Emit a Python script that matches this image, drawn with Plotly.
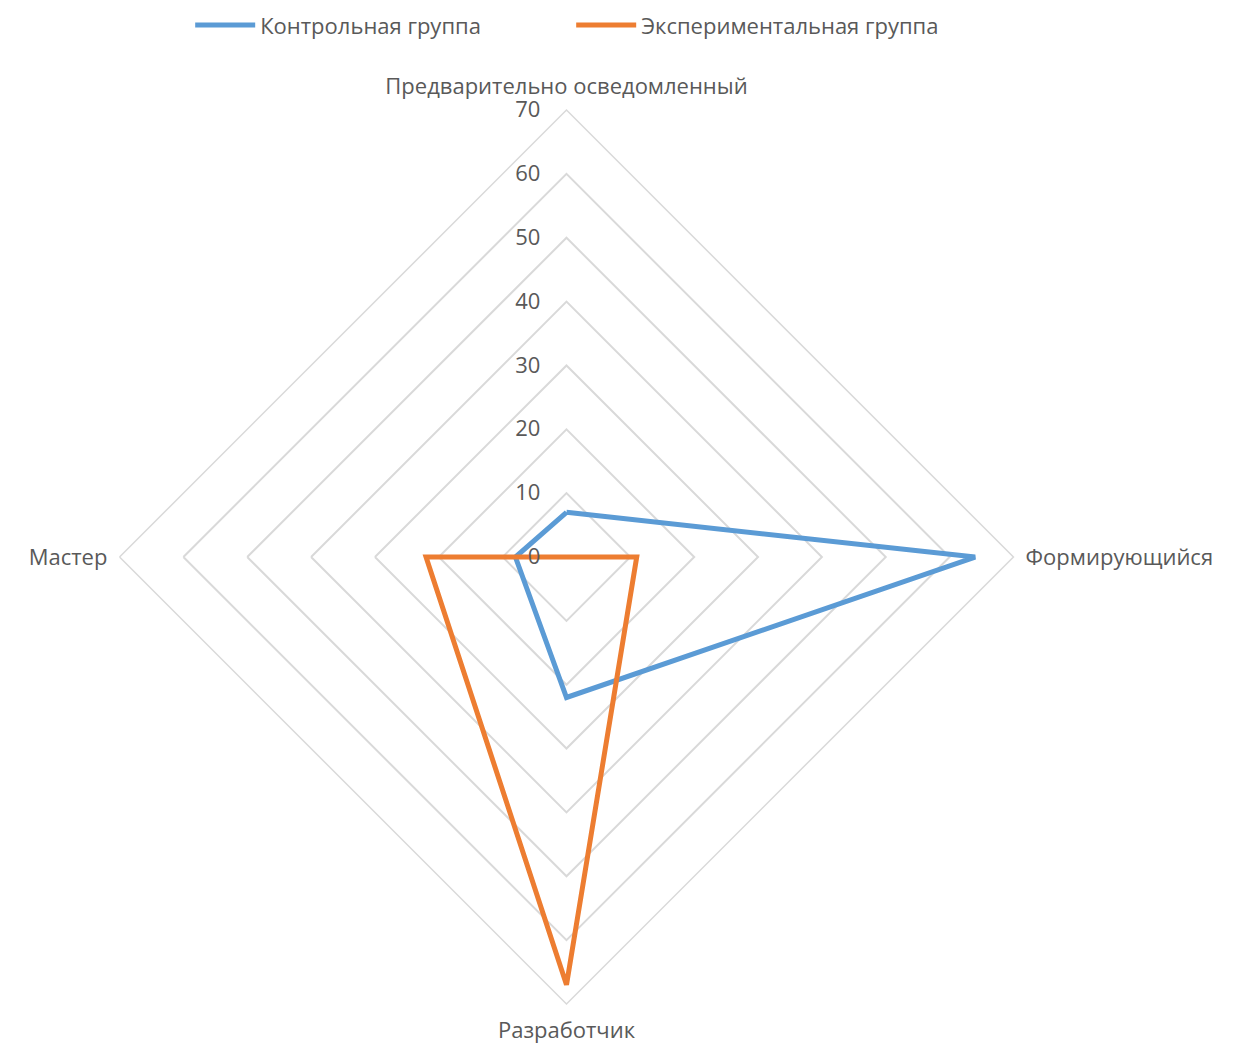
import plotly.graph_objects as go

categories = ["Предварительно осведомленный", "Формирующийся", "Разработчик", "Мастер"]
control = [7, 64, 22, 8]
experimental = [0, 11, 67, 22]
radial_ticks = [0, 10, 20, 30, 40, 50, 60, 70]

FONT = "Open Sans"
TEXT = "#595959"
GRID = "#d9d9d9"


def closed(vals):
    return vals + vals[:1]


fig = go.Figure()
fig.add_trace(go.Scatterpolar(
    r=closed(control), theta=closed(categories), mode="lines",
    name="Контрольная группа",
    line=dict(color="#5B9BD5", width=5),
))
fig.add_trace(go.Scatterpolar(
    r=closed(experimental), theta=closed(categories), mode="lines",
    name="Экспериментальная группа",
    line=dict(color="#ED7D31", width=5),
))

fig.update_layout(
    width=1235, height=1048,
    margin=dict(l=0, r=0, t=0, b=0),
    paper_bgcolor="white",
    font=dict(family=FONT, color=TEXT, size=22),
    showlegend=True,
    legend=dict(orientation="h", x=0.154, xanchor="left", y=0.996, yanchor="top",
                font=dict(size=22, color=TEXT), itemwidth=60,
                entrywidth=306, entrywidthmode="pixels"),
    polar=dict(
        domain=dict(x=[0.0968, 0.8206], y=[0.042, 0.895]),
        bgcolor="white",
        gridshape="linear",
        radialaxis=dict(
            range=[0, 70], tickvals=radial_ticks, angle=90, tickangle=90,
            showline=False, gridcolor=GRID, gridwidth=1.5,
            ticks="outside", ticklen=18, tickcolor="rgba(0,0,0,0)",
            tickfont=dict(size=22, color=TEXT), side="counterclockwise",
        ),
        angularaxis=dict(
            direction="clockwise", rotation=90,
            showgrid=False, showline=True, linecolor=GRID, linewidth=1.5,
            ticks="outside", ticklen=7, tickcolor="rgba(0,0,0,0)",
            tickfont=dict(size=22, color=TEXT),
        ),
    ),
)

fig.write_html("out.html")
